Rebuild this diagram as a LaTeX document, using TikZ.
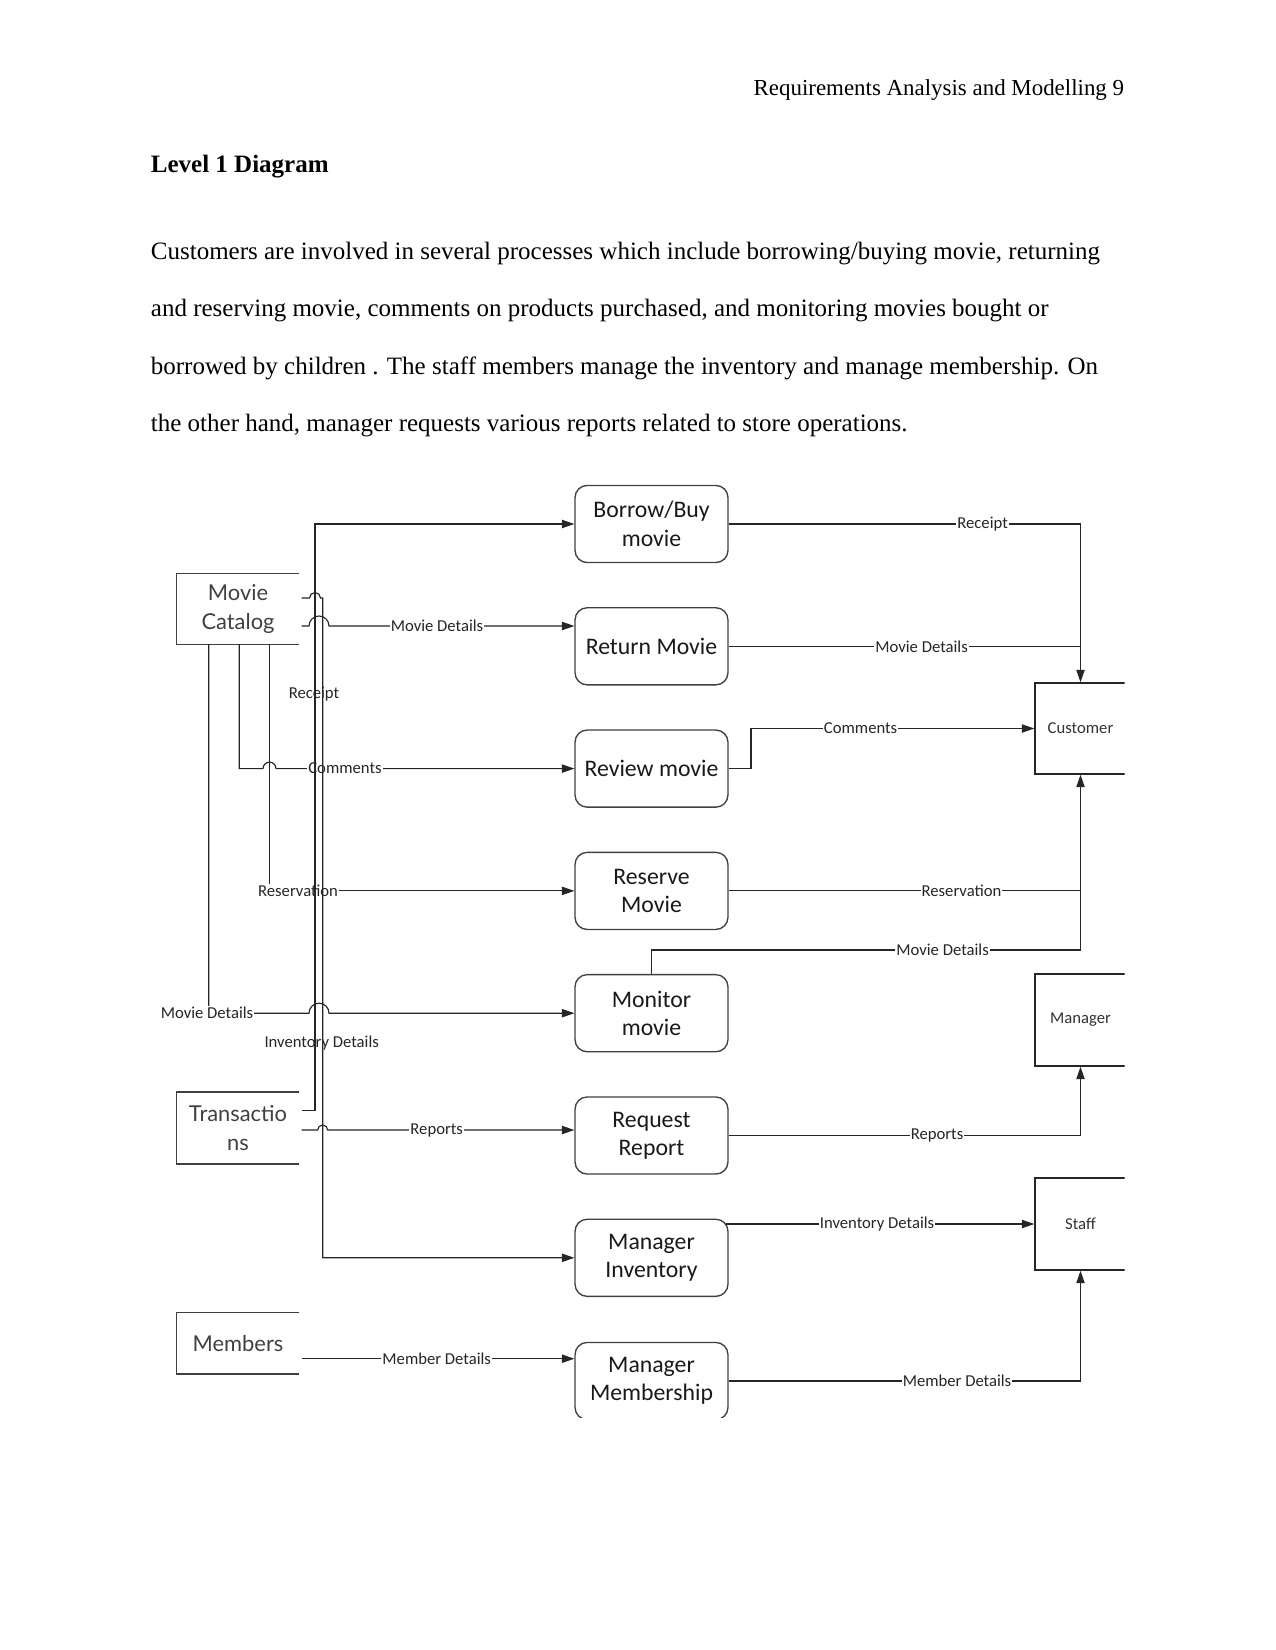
\documentclass[tikz,border=0pt]{standalone}
\usepackage{fontspec}
\setmainfont{Liberation Serif}
\newfontfamily\dgfont{Carlito}
\newfontfamily\dsfont{Lato}
\usetikzlibrary{arrows.meta,calc}
\begin{document}
\begin{tikzpicture}[x=0.48pt,y=-0.48pt,
  proc/.style={draw=black!75, line width=0.65pt, rounded corners=5.8pt,
    minimum width=73.4pt, minimum height=37pt, align=center, inner sep=0pt,
    font=\dgfont\fontsize{11.4}{13.6}\selectfont, text=black!90},
  store/.style={minimum width=58.6pt, inner sep=0pt, align=center,
    font=\dsfont\fontsize{10.5}{13.6}\selectfont, text=black!75},
  storeline/.style={draw=black!75, line width=0.65pt},
  ext/.style={draw=black!85, line width=0.65pt, minimum width=43.7pt, inner sep=0pt,
    font=\dgfont\fontsize{8}{9.6}\selectfont, text=black!80},
  flow/.style={draw=black!85, line width=0.55pt, -{Triangle[length=6pt,width=4pt]}},
  plainflow/.style={draw=black!85, line width=0.55pt},
  lbl/.style={font=\dgfont\fontsize{8}{9.6}\selectfont, fill=white, inner sep=0.5pt, text=black!85},
  vlbl/.style={font=\dgfont\fontsize{8}{9.6}\selectfont, inner sep=0.5pt, text=black!85},
  body/.style={anchor=base west, inner sep=0pt, font=\fontsize{12}{14}\selectfont},
]
\useasboundingbox (0,0) rectangle (1275,1650);

% ---- page text ----
\node[anchor=base east, inner sep=0pt, font=\fontsize{11}{13}\selectfont] (hdr) at (1124.5,95.5) {Requirements Analysis and Modelling 9};
\node[body, font=\fontsize{12}{14}\selectfont\bfseries] (ttl) at (150.5,172.5) {Level 1 Diagram};
\node[body] (l1) at (150.5,259.8) {Customers are involved in several processes which include borrowing/buying movie, returning};
\node[body] (l2) at (150.5,316.8) {and reserving movie, comments on products purchased, and monitoring movies bought or};
\node[body] (l3) at (150.5,374.2) {borrowed by children . The staff members manage the inventory and manage membership. On};
\node[body] (l4) at (150.5,431.3) {the other hand, manager requests various reports related to store operations.};

\begin{scope}
\clip (140,450) rectangle (1124.6,1417);

% ---- processes ----
\node[proc] (p1) at (651.5,524.0) {Borrow/Buy\\movie};
\node[proc] (p2) at (651.5,646.3) {Return Movie};
\node[proc] (p3) at (651.5,768.6) {Review movie};
\node[proc] (p4) at (651.5,890.9) {Reserve\\Movie};
\node[proc] (p5) at (651.5,1013.2) {Monitor\\movie};
\node[proc] (p6) at (651.5,1135.5) {Request\\Report};
\node[proc] (p7) at (651.5,1257.8) {Manager\\Inventory};
\node[proc] (p8) at (651.5,1381.0) {Manager\\Membership};

% ---- data stores ----
\node[store, minimum height=33.6pt] (mc) at (238,609) {Movie\\Catalog};
\node[store, minimum height=34.3pt] (tr) at (238,1128) {Transactio\\ns};
\node[store, minimum height=29.3pt] (me) at (238,1343.2) {Members};
\foreach \s in {mc,tr,me}
  \draw[storeline] (\s.north east) -- (\s.north west) -- (\s.south west) -- (\s.south east);

% ---- external entities ----
\node[ext, minimum height=43.7pt] (cust) at (1080.5,728.5) {Customer};
\node[ext, minimum height=44.2pt] (mgr) at (1080.5,1020) {Manager};
\node[ext, minimum height=44.2pt] (staff) at (1080.5,1224) {Staff};

% ---- named free ends ----
\coordinate (mcA) at (301.7,598);
\coordinate (mcB) at (301.7,626);
\coordinate (mcD1) at (208.7,644);
\coordinate (mcD2) at (239.3,644);
\coordinate (mcD3) at (269.3,644);
\coordinate (trA) at (301.7,1110.7);
\coordinate (trB) at (301.7,1130);
\coordinate (meA) at (301.7,1358.7);
\coordinate (p7r) at (725.5,1224);

% ---- right side flows ----
\draw[flow] (p1.east) -| (cust.north);
\node[lbl] at (982.6,524) {Receipt};
\draw[plainflow] (p2.east) -- (cust.north |- p2.east);
\node[lbl] at (921.6,646.3) {Movie Details};
\draw[flow] (p3.east) -- (751,768.6) |- (cust.west);
\node[lbl] at (860.6,728.5) {Comments};
\draw[plainflow] (p4.east) -- (cust.south |- p4.east);
\node[lbl] at (961.5,890.9) {Reservation};
\draw[flow] (p5.north) -- (651.5,950) -| (cust.south);
\node[lbl] at (942.6,950) {Movie Details};
\draw[flow] (p6.east) -| (mgr.south);
\node[lbl] at (937,1135.5) {Reports};
\draw[flow] (p7r) -- (staff.west);
\node[lbl] at (877,1224) {Inventory Details};
\draw[flow] (p8.east) -| (staff.south);
\node[lbl] at (957,1381) {Member Details};

% ---- left side flows ----
\draw[flow] (mcB) -- (309,626) arc[start angle=180,end angle=360,radius=10] -- (p2.west |- mcB);
\node[lbl] at (437,626) {Movie Details};
\draw[flow] (mcD2) -- (239.3,768.6) -- (263,768.6) arc[start angle=180,end angle=360,radius=6.5] -- (p3.west);
\node[lbl] at (345,768.6) {Comments};
\draw[flow] (mcD3) |- (p4.west);
\node[lbl] at (298,890.9) {Reservation};
\draw[flow] (mcD1) -- (208.7,1013.2) -- (309,1013.2) arc[start angle=180,end angle=360,radius=10] -- (p5.west);
\node[lbl] at (207,1012.5) {Movie Details};
\draw[flow] (trB) -- (317.7,1130) arc[start angle=180,end angle=360,radius=5] -- (p6.west |- trB);
\node[lbl] at (436.7,1130) {Reports};
\draw[flow] (meA) -- (p8.west |- meA);
\node[lbl] at (436.7,1358.7) {Member Details};

% vertical trunk lines drawn last (they show through the labels)
\draw[flow] (trA) -- (315,1110.7) |- (p1.west);
\node[vlbl] at (314,694) {Receipt};
\draw[flow] (mcA) -- (309.5,598) arc[start angle=180,end angle=360,radius=5.5] -- (322.7,598) |- (p7.west);
\node[vlbl] at (321.7,1042.7) {Inventory Details};
\end{scope}
\end{tikzpicture}
\end{document}
